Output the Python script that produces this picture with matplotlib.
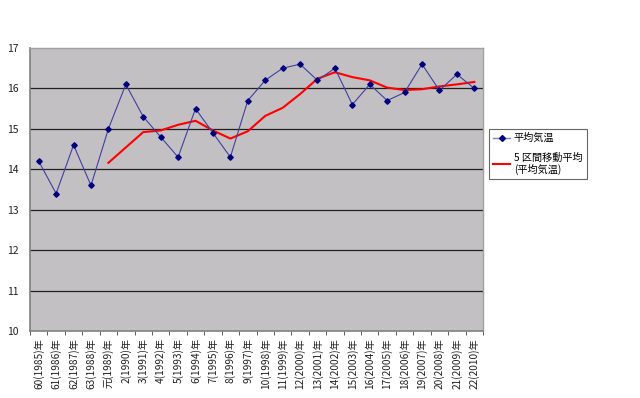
import matplotlib
matplotlib.use("Agg")
import matplotlib.pyplot as plt
from matplotlib.lines import Line2D

plt.rcParams['font.family'] = ['Noto Sans CJK JP', 'DejaVu Sans']

labels = ["60(1985)年", "61(1986)年", "62(1987)年", "63(1988)年", "元(1989)年",
          "2(1990)年", "3(1991)年", "4(1992)年", "5(1993)年", "6(1994)年",
          "7(1995)年", "8(1996)年", "9(1997)年", "10(1998)年", "11(1999)年",
          "12(2000)年", "13(2001)年", "14(2002)年", "15(2003)年", "16(2004)年",
          "17(2005)年", "18(2006)年", "19(2007)年", "20(2008)年", "21(2009)年",
          "22(2010)年"]
temps = [14.2, 13.4, 14.6, 13.6, 15.0, 16.1, 15.3, 14.8, 14.3, 15.5,
         14.9, 14.3, 15.7, 16.2, 16.5, 16.6, 16.2, 16.5, 15.6, 16.1,
         15.7, 15.9, 16.6, 15.95, 16.35, 16.0]
ma5 = [None, None, None, None, 14.16, 14.54, 14.92, 14.96, 15.10, 15.20,
       14.96, 14.76, 14.94, 15.32, 15.52, 15.86, 16.24, 16.40, 16.28, 16.20,
       16.02, 15.96, 15.98, 16.05, 16.10, 16.16]

W, H = 640, 398
fig = plt.figure(figsize=(W/100, H/100), dpi=100)
fig.patch.set_facecolor('white')
ax = fig.add_axes([30/W, 1-331/H, (483-30)/W, (331-48)/H])
ax.set_facecolor('#C3C0C3')

x = list(range(len(labels)))
ax.plot(x, temps, color='#4040A0', lw=0.8, marker='D', ms=2.8, mfc='#000080', mec='#000080', zorder=3)
mx = [i for i, v in zip(x, ma5) if v is not None]
my = [v for v in ma5 if v is not None]
ax.plot(mx, my, color='#FF0000', lw=1.5, zorder=2)

ax.set_xlim(-0.5, len(labels)-0.5)
ax.set_ylim(10, 17)
ax.set_yticks(range(10, 18))
for yv in range(11, 17):
    ax.axhline(yv, color='#202020', lw=0.9, zorder=1)

ax.set_xticks(x)
ax.set_xticklabels(labels, rotation=90, fontsize=7.3, va='top', color='#202020')
ax.tick_params(axis='x', length=0, pad=5)
ax.set_xticks([i - 0.5 for i in range(len(labels)+1)], minor=True)
ax.tick_params(axis='x', which='minor', length=3, direction='out', color='#404040')
ax.tick_params(axis='y', length=0, labelsize=7.5, pad=8, labelcolor='#202020')

for s in ['top', 'right']:
    ax.spines[s].set_color('#A0A0A0')
    ax.spines[s].set_linewidth(1)
ax.spines['left'].set_color('#808080')
ax.spines['bottom'].set_color('#808080')
ax.spines['left'].set_linewidth(1.2)
ax.spines['bottom'].set_linewidth(1.2)

handles = [Line2D([0], [0], color='#8080C0', lw=1, marker='D', ms=3, mfc='#000080', mec='#000080'),
           Line2D([0], [0], color='#FF0000', lw=1.5)]
leg = fig.legend(handles, ['平均気温', '5 区間移動平均\n(平均気温)'],
                 loc='upper left', bbox_to_anchor=(489/W, 1-129/H),
                 fontsize=7.3, frameon=True, fancybox=False, edgecolor='#404040',
                 handlelength=1.7, borderpad=0.4, labelspacing=0.9, handletextpad=0.35,
                 borderaxespad=0)
leg.get_frame().set_linewidth(0.8)

fig.savefig('out.png', dpi=100, facecolor='white')
